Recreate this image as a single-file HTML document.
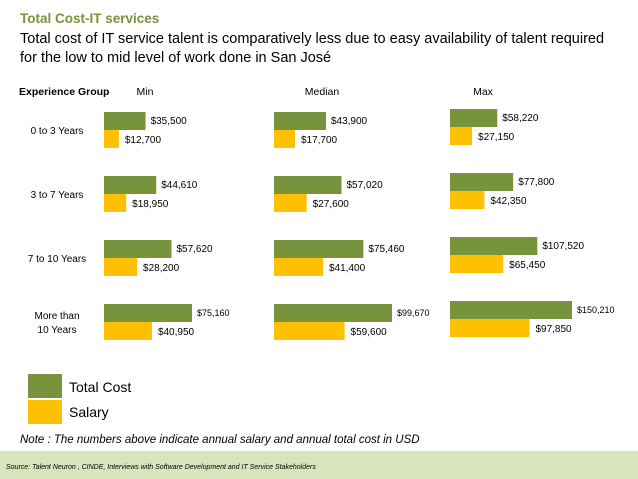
<!DOCTYPE html>
<html><head><meta charset="utf-8"><style>
body{margin:0;background:#fff;}
svg{display:block;font-family:"Liberation Sans",sans-serif;}
</style></head><body>
<svg width="638" height="479" viewBox="0 0 638 479">
<text x="20" y="23" font-size="13.5" font-weight="bold" fill="#77933c">Total Cost-IT services</text>
<text x="20" y="43" font-size="14.5" fill="#000">Total cost of IT service talent is comparatively less due to easy availability of talent required</text>
<text x="20" y="62" font-size="14.5" fill="#000">for the low to mid level of work done in San José</text>
<text x="19" y="95" font-size="10.5" font-weight="bold">Experience Group</text>
<g id="chart"></g>
<rect x="28" y="374" width="34" height="24" fill="#77933c"/>
<text x="69" y="392" font-size="14">Total Cost</text>
<rect x="28" y="400" width="34" height="24" fill="#ffc000"/>
<text x="69" y="417" font-size="14">Salary</text>
<text x="20" y="443" font-size="11.5" font-style="italic">Note : The numbers above indicate annual salary and annual total cost  in USD</text>
<rect x="0" y="451" width="638" height="28" fill="#d8e4bc"/>
<text x="6" y="469" font-size="7" font-style="italic">Source: Talent Neuron ,  CINDE, Interviews with Software Development and IT Service Stakeholders</text>
</svg>
<script>
const categories = ["0 to 3 Years","3 to 7 Years","7 to 10 Years","More than|10 Years"];
const panels = ["Min","Median","Max"];
const totalMin = [35500,44610,57620,75160];
const salaryMin = [12700,18950,28200,40950];
const totalMedian = [43900,57020,75460,99670];
const salaryMedian = [17700,27600,41400,59600];
const totalMax = [58220,77800,107520,150210];
const salaryMax = [27150,42350,65450,97850];

const NS="http://www.w3.org/2000/svg";
const g=document.getElementById('chart');
function mk(tag,attrs,text){const e=document.createElementNS(NS,tag);for(const k in attrs)e.setAttribute(k,attrs[k]);if(text!==undefined)e.textContent=text;g.appendChild(e);return e;}
const fmt=v=>'$'+v.toLocaleString('en-US');
const panelX=[104,274,450];
const panelW=[88,118,122];
const titleX=[145,322,483];
const totals=[totalMin,totalMedian,totalMax];
const sals=[salaryMin,salaryMedian,salaryMax];
const rowY=i=>112+i*64;
categories.forEach((c,i)=>{
  const parts=c.split('|');
  const cy=rowY(i)+18;
  parts.forEach((p,j)=>{
    const t=mk('text',{x:57,y:cy+4+(j-(parts.length-1)/2)*14,'font-size':10,'text-anchor':'middle'},p);
    
    
  });
});
panels.forEach((p,pi)=>{
  const h=mk('text',{x:titleX[pi],y:95,'font-size':10.5,'text-anchor':'middle'},p);
  
  
  const maxv=Math.max(...totals[pi]);
  const sx=v=>v/maxv*panelW[pi];
  categories.forEach((c,i)=>{
    const y=rowY(i)-(pi===2?3:0);
    const tv=totals[pi][i], sv=sals[pi][i];
    const b1=mk('rect',{x:panelX[pi],y:y,width:sx(tv),height:18,fill:'#77933c'});
    
    
    const b2=mk('rect',{x:panelX[pi],y:y+18,width:sx(sv),height:18,fill:'#ffc000'});
    
    
    const l1=mk('text',{x:panelX[pi]+sx(tv)+5,y:y+12,'font-size':i===3?9:10},fmt(tv));
    
    
    const l2=mk('text',{x:panelX[pi]+sx(sv)+6,y:y+31,'font-size':10},fmt(sv));
    
    
  });
});
</script>
</body></html>
